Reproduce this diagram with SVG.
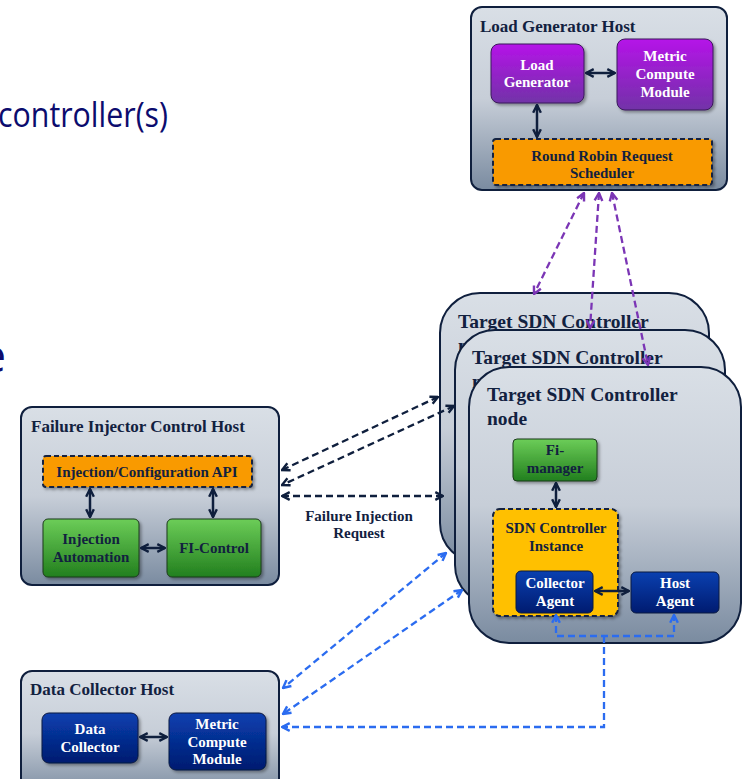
<svg xmlns="http://www.w3.org/2000/svg" width="743" height="779" viewBox="0 0 743 779">
<defs>
  <linearGradient id="gHost" x1="0" y1="0" x2="0" y2="1">
    <stop offset="0" stop-color="#d9dfe6"/>
    <stop offset="0.5" stop-color="#c7ced8"/>
    <stop offset="1" stop-color="#7a8ba0"/>
  </linearGradient>
  <linearGradient id="gPurple" x1="0" y1="0" x2="0" y2="1">
    <stop offset="0" stop-color="#b514e8"/>
    <stop offset="1" stop-color="#7232a8"/>
  </linearGradient>
  <linearGradient id="gGreen" x1="0" y1="0" x2="0" y2="1">
    <stop offset="0" stop-color="#6ccd58"/>
    <stop offset="1" stop-color="#227f1e"/>
  </linearGradient>
  <linearGradient id="gBlue" x1="0" y1="0" x2="0" y2="1">
    <stop offset="0" stop-color="#0a40b0"/>
    <stop offset="1" stop-color="#001b70"/>
  </linearGradient>
  <filter id="sh" x="-10%" y="-10%" width="130%" height="130%">
    <feDropShadow dx="2" dy="2" stdDeviation="1.5" flood-color="#000" flood-opacity="0.35"/>
  </filter>
  <marker id="aN" viewBox="0 0 10 10" markerUnits="userSpaceOnUse" markerWidth="11" markerHeight="11" refX="9" refY="5" orient="auto-start-reverse">
    <path d="M2,1.5 L9,5 L2,8.5" fill="none" stroke="#0f1f3d" stroke-width="2.2"/>
  </marker>
  <marker id="aP" viewBox="0 0 10 10" markerUnits="userSpaceOnUse" markerWidth="11" markerHeight="11" refX="9" refY="5" orient="auto-start-reverse">
    <path d="M2,1.5 L9,5 L2,8.5" fill="none" stroke="#7b35b5" stroke-width="2.2"/>
  </marker>
  <marker id="aB" viewBox="0 0 10 10" markerUnits="userSpaceOnUse" markerWidth="11" markerHeight="11" refX="9" refY="5" orient="auto-start-reverse">
    <path d="M2,1.5 L9,5 L2,8.5" fill="none" stroke="#2b6cf0" stroke-width="2.2"/>
  </marker>
</defs>
<style>
  .host { fill: url(#gHost); stroke: #0f1f3d; stroke-width: 2; }
  .node { fill: url(#gHost); stroke: #0f1f3d; stroke-width: 2; }
  .title { font-family: "Liberation Serif", serif; font-weight: bold; font-size: 17px; fill: #12213f; }
  .ntitle { font-family: "Liberation Serif", serif; font-weight: bold; font-size: 19.5px; fill: #12213f; }
  .in { font-family: "Liberation Serif", serif; font-weight: bold; font-size: 15px; text-anchor: middle; }
  .w { fill: #ffffff; }
  .d { fill: #12213f; }
  .purple { fill: url(#gPurple); stroke: #3a1a5a; stroke-width: 1; }
  .green { fill: url(#gGreen); stroke: #1d3a1d; stroke-width: 1; }
  .blue { fill: url(#gBlue); stroke: #0a1a40; stroke-width: 1; }
  .orange { fill: #f99a00; stroke: #12213f; stroke-width: 2; stroke-dasharray: 5 3; }
  .yellow { fill: #ffc000; stroke: #12213f; stroke-width: 2; stroke-dasharray: 5 3; }
  .solid { fill: none; stroke: #0f1f3d; stroke-width: 2.5; marker-start: url(#aN); marker-end: url(#aN); }
  .dn { fill: none; stroke: #0f1f3d; stroke-width: 2.3; stroke-dasharray: 7 4; }
  .dp { fill: none; stroke: #7b35b5; stroke-width: 2.3; stroke-dasharray: 7 4; }
  .db { fill: none; stroke: #2b6cf0; stroke-width: 2.3; stroke-dasharray: 7 4; }
  .bg { font-family: "Open Sans", "Noto Sans", sans-serif; fill: #0c0c6e; }
</style>

<text class="bg" x="-2" y="127" font-size="35" textLength="170" lengthAdjust="spacingAndGlyphs">controller(s)</text>
<text class="bg" x="6" y="372" font-size="46" text-anchor="end">e</text>

<g id="load-generator-host">
  <rect class="host" x="471" y="7" width="256" height="183" rx="11"/>
  <text class="title" x="480" y="32">Load Generator Host</text>
  <g id="load-generator">
    <rect class="purple" x="491" y="44" width="93" height="59" rx="8" filter="url(#sh)"/>
    <text class="in w" x="537" y="70">Load</text>
    <text class="in w" x="537" y="87">Generator</text>
  </g>
  <g id="metric-compute-lg">
    <rect class="purple" x="617" y="39" width="96" height="71" rx="8" filter="url(#sh)"/>
    <text class="in w" x="665" y="61">Metric</text>
    <text class="in w" x="665" y="79">Compute</text>
    <text class="in w" x="665" y="97">Module</text>
  </g>
  <g id="rr-scheduler">
    <rect class="orange" x="493" y="139" width="219" height="46" rx="3" filter="url(#sh)"/>
    <text class="in d" x="602" y="161">Round Robin Request</text>
    <text class="in d" x="602" y="178">Scheduler</text>
  </g>
</g>

<g id="target-node-1">
  <rect class="node" x="440" y="293" width="269" height="270" rx="40"/>
  <text class="ntitle" x="458" y="328">Target SDN Controller</text>
  <text class="ntitle" x="458" y="352">node</text>
</g>
<g id="target-node-2">
  <rect class="node" x="455" y="330" width="270" height="275" rx="40"/>
  <text class="ntitle" x="472" y="364">Target SDN Controller</text>
  <text class="ntitle" x="472" y="388">node</text>
</g>
<g id="target-node-3">
  <rect class="node" x="469" y="367" width="272" height="276" rx="40"/>
  <text class="ntitle" x="487" y="401">Target SDN Controller</text>
  <text class="ntitle" x="487" y="425">node</text>
  <g id="fi-manager">
    <rect class="green" x="513" y="439" width="84" height="42" rx="4" filter="url(#sh)"/>
    <text class="in d" x="555" y="455">Fi-</text>
    <text class="in d" x="555" y="473">manager</text>
  </g>
  <g id="sdn-instance">
    <rect class="yellow" x="493" y="509" width="125" height="107" rx="7" filter="url(#sh)"/>
    <text class="in d" x="556" y="533">SDN Controller</text>
    <text class="in d" x="556" y="551">Instance</text>
  </g>
  <g id="collector-agent">
    <rect class="blue" x="516" y="571" width="77" height="42" rx="5"/>
    <text class="in w" x="555" y="588">Collector</text>
    <text class="in w" x="555" y="606">Agent</text>
  </g>
  <g id="host-agent">
    <rect class="blue" x="631" y="572" width="88" height="41" rx="5"/>
    <text class="in w" x="675" y="588">Host</text>
    <text class="in w" x="675" y="606">Agent</text>
  </g>
</g>

<g id="failure-injector-host">
  <rect class="host" x="21" y="407" width="258" height="178" rx="11"/>
  <text class="title" x="31" y="432">Failure Injector Control Host</text>
  <g id="injection-api">
    <rect class="orange" x="43" y="456" width="209" height="31" rx="3" filter="url(#sh)"/>
    <text class="in d" x="147" y="477">Injection/Configuration API</text>
  </g>
  <g id="injection-automation">
    <rect class="green" x="43" y="519" width="96" height="58" rx="5" filter="url(#sh)"/>
    <text class="in d" x="91" y="544">Injection</text>
    <text class="in d" x="91" y="562">Automation</text>
  </g>
  <g id="fi-control">
    <rect class="green" x="167" y="519" width="94" height="58" rx="5" filter="url(#sh)"/>
    <text class="in d" x="214" y="553">FI-Control</text>
  </g>
</g>

<g id="data-collector-host">
  <rect class="host" x="21" y="671" width="258" height="125" rx="11"/>
  <text class="title" x="30" y="695">Data Collector Host</text>
  <g id="data-collector">
    <rect class="blue" x="42" y="713" width="96" height="50" rx="7" filter="url(#sh)"/>
    <text class="in w" x="90" y="734">Data</text>
    <text class="in w" x="90" y="752">Collector</text>
  </g>
  <g id="metric-compute-dc">
    <rect class="blue" x="169" y="713" width="97" height="57" rx="7" filter="url(#sh)"/>
    <text class="in w" x="217" y="729">Metric</text>
    <text class="in w" x="217" y="747">Compute</text>
    <text class="in w" x="217" y="764">Module</text>
  </g>
</g>

<text class="in d" x="359" y="521">Failure Injection</text>
<text class="in d" x="359" y="538">Request</text>

<g id="connectors">
  <line class="solid" x1="586" y1="73" x2="615" y2="73"/>
  <line class="solid" x1="537" y1="105" x2="537" y2="137"/>
  <line class="solid" x1="90" y1="489" x2="90" y2="517"/>
  <line class="solid" x1="213" y1="489" x2="213" y2="517"/>
  <line class="solid" x1="141" y1="548" x2="165" y2="548"/>
  <line class="solid" x1="140" y1="737" x2="167" y2="737"/>
  <line class="solid" x1="556" y1="483" x2="556" y2="507"/>
  <line class="solid" x1="595" y1="591" x2="629" y2="591"/>

  <line class="dp" x1="584" y1="193" x2="534" y2="294" marker-start="url(#aP)" marker-end="url(#aP)"/>
  <line class="dp" x1="599" y1="193" x2="590" y2="328" marker-start="url(#aP)" marker-end="url(#aP)"/>
  <line class="dp" x1="612" y1="193" x2="648" y2="365" marker-start="url(#aP)" marker-end="url(#aP)"/>

  <line class="dn" x1="438" y1="397" x2="282" y2="470" marker-start="url(#aN)" marker-end="url(#aN)"/>
  <line class="dn" x1="454" y1="406" x2="282" y2="485" marker-start="url(#aN)" marker-end="url(#aN)"/>
  <line class="dn" x1="282" y1="496" x2="443" y2="496" marker-start="url(#aN)" marker-end="url(#aN)"/>

  <line class="db" x1="446" y1="553" x2="283" y2="688" marker-start="url(#aB)" marker-end="url(#aB)"/>
  <line class="db" x1="462" y1="590" x2="283" y2="714" marker-start="url(#aB)" marker-end="url(#aB)"/>
  <polyline class="db" points="556,615 556,636 674,636 674,615" marker-start="url(#aB)" marker-end="url(#aB)"/>
  <polyline class="db" points="604,636 604,727 282,727" marker-end="url(#aB)"/>
</g>
</svg>
